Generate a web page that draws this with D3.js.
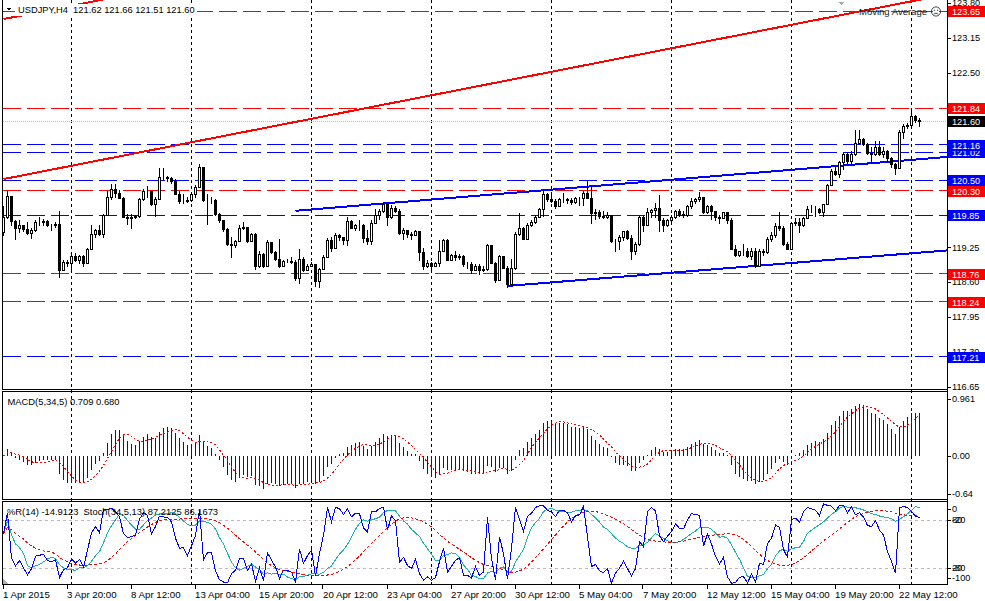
<!DOCTYPE html>
<html>
<head>
<meta charset="utf-8">
<script src="https://cdnjs.cloudflare.com/ajax/libs/d3/7.8.5/d3.min.js"></script>
<style>
  html, body { margin: 0; padding: 0; background: #fff; }
  svg { display: block; font-family: "Liberation Sans", Arial, sans-serif; font-size: 9.2px; }
</style>
</head>
<body>
<div id="chart"></div>
<script>
// USDJPY H4 quotes, 1 Apr - 22 May 2015 (open of a bar = close of the previous one)
const firstOpen = 119.53;
const closes = [
  119.81, 120.21, 119.74, 119.61, 119.67, 119.59, 119.51, 119.58, 119.72, 119.73,
  119.74, 119.67, 119.66, 119.68, 118.83, 118.97, 118.95, 119.09, 119.02, 119.08,
  118.96, 119.22, 119.49, 119.58, 119.49, 119.85, 120.18, 120.34, 120.27, 120.17,
  119.82, 119.79, 119.81, 119.84, 120.15, 120.30, 120.29, 120.06, 120.15, 120.56,
  120.55, 120.54, 120.48, 120.25, 120.11, 120.12, 120.13, 120.25, 120.38, 120.74,
  120.13, 120.13, 120.13, 119.87, 119.75, 119.59, 119.32, 119.29, 119.36, 119.61,
  119.62, 119.36, 119.50, 118.91, 119.13, 118.91, 119.35, 119.16, 119.04, 118.91,
  119.00, 119.00, 118.98, 118.67, 119.04, 118.82, 118.91, 118.93, 118.62, 118.85,
  119.06, 119.39, 119.24, 119.47, 119.45, 119.38, 119.74, 119.61, 119.67, 119.66,
  119.43, 119.36, 119.70, 119.86, 119.92, 120.06, 119.82, 119.98, 119.93, 119.51,
  119.58, 119.50, 119.47, 119.56, 119.16, 118.91, 118.96, 118.91, 118.95, 119.19,
  119.38, 119.02, 119.10, 119.07, 119.09, 118.93, 118.93, 118.83, 118.91, 118.82,
  118.85, 119.30, 118.96, 118.64, 119.08, 118.87, 118.56, 118.87, 119.50, 119.61,
  119.41, 119.67, 119.72, 119.82, 119.96, 120.25, 120.15, 120.11, 120.01, 120.15,
  120.15, 120.13, 120.09, 120.16, 120.17, 120.27, 120.17, 119.88, 119.90, 119.84,
  119.82, 119.86, 119.36, 119.36, 119.44, 119.55, 119.43, 119.19, 119.32, 119.81,
  119.67, 119.90, 119.95, 119.98, 119.76, 119.67, 119.75, 119.82, 119.93, 119.87,
  119.86, 120.01, 120.12, 120.14, 120.18, 119.90, 120.01, 119.92, 119.81, 119.80,
  119.90, 119.76, 119.22, 119.10, 119.18, 119.19, 119.08, 119.19, 118.91, 119.18,
  119.16, 119.41, 119.47, 119.64, 119.61, 119.32, 119.22, 119.70, 119.72, 119.67,
  119.80, 119.96, 119.96, 119.96, 119.90, 120.06, 120.41, 120.67, 120.62, 120.83,
  120.98, 120.86, 120.99, 121.20, 121.26, 121.18, 121.01, 120.99, 121.11, 120.99,
  121.04, 120.91, 120.80, 120.73, 121.40, 121.51, 121.52, 121.69, 121.62, 121.60
];
const highs = [
  120.01, 120.30, 120.21, 119.75, 119.75, 119.67, 119.72, 119.60, 119.75, 119.81,
  119.77, 119.75, 119.69, 119.72, 119.93, 119.02, 119.01, 119.13, 119.14, 119.10,
  119.10, 119.24, 119.67, 119.59, 119.66, 119.87, 120.29, 120.43, 120.43, 120.32,
  120.18, 119.87, 119.87, 119.86, 120.17, 120.34, 120.40, 120.30, 120.18, 120.73,
  120.72, 120.58, 120.56, 120.53, 120.30, 120.25, 120.18, 120.27, 120.41, 120.81,
  120.75, 120.25, 120.19, 120.14, 119.88, 119.75, 119.61, 119.44, 119.38, 119.66,
  119.72, 119.63, 119.51, 119.51, 119.19, 119.14, 119.38, 119.35, 119.19, 119.41,
  119.01, 119.04, 119.06, 119.01, 119.22, 119.06, 118.93, 118.97, 118.93, 118.86,
  119.10, 119.43, 119.45, 119.51, 119.49, 119.45, 119.82, 119.75, 119.69, 119.75,
  119.69, 119.58, 119.75, 119.97, 119.97, 120.10, 120.06, 120.03, 120.01, 119.97,
  119.60, 119.58, 119.54, 119.58, 119.56, 119.23, 119.01, 118.97, 118.97, 119.39,
  119.41, 119.41, 119.12, 119.19, 119.12, 119.10, 118.97, 118.97, 118.93, 118.93,
  118.90, 119.32, 119.30, 118.97, 119.10, 119.08, 118.90, 119.04, 119.54, 119.88,
  119.62, 119.71, 119.75, 119.86, 119.99, 120.29, 120.27, 120.23, 120.14, 120.17,
  120.27, 120.17, 120.16, 120.19, 120.19, 120.29, 120.49, 120.40, 119.97, 119.95,
  119.93, 119.90, 119.86, 119.41, 119.47, 119.56, 119.58, 119.47, 119.34, 119.84,
  119.84, 119.99, 119.97, 120.07, 120.23, 119.79, 119.77, 119.86, 119.95, 119.97,
  119.93, 120.03, 120.16, 120.17, 120.28, 120.19, 120.03, 120.03, 119.93, 119.86,
  119.91, 119.91, 119.79, 119.29, 119.19, 119.32, 119.23, 119.23, 119.23, 119.21,
  119.21, 119.45, 119.53, 119.71, 119.90, 119.64, 119.34, 119.73, 119.79, 119.79,
  119.82, 120.01, 120.03, 120.01, 119.99, 120.06, 120.43, 120.71, 120.75, 120.86,
  121.01, 121.03, 121.04, 121.44, 121.43, 121.29, 121.19, 121.12, 121.23, 121.23,
  121.12, 121.06, 120.93, 120.82, 121.44, 121.54, 121.56, 121.80, 121.71, 121.66
];
const lows = [
  119.47, 119.80, 119.66, 119.41, 119.53, 119.56, 119.49, 119.42, 119.56, 119.67,
  119.67, 119.64, 119.58, 119.62, 118.70, 118.83, 118.91, 118.79, 119.00, 118.96,
  118.91, 118.95, 119.24, 119.44, 119.47, 119.44, 119.85, 120.15, 120.18, 120.16,
  119.81, 119.69, 119.61, 119.80, 119.81, 120.13, 120.18, 120.03, 119.84, 120.15,
  120.51, 120.49, 120.45, 120.24, 120.08, 120.08, 120.10, 120.12, 120.19, 120.38,
  120.12, 119.69, 120.08, 119.86, 119.72, 119.56, 119.30, 119.06, 119.25, 119.36,
  119.59, 119.35, 119.36, 118.85, 118.88, 118.88, 118.91, 119.14, 119.01, 118.88,
  118.91, 118.97, 118.95, 118.64, 118.58, 118.80, 118.82, 118.90, 118.53, 118.51,
  118.85, 119.06, 119.19, 119.23, 119.38, 119.32, 119.29, 119.60, 119.58, 119.58,
  119.34, 119.32, 119.32, 119.70, 119.77, 119.90, 119.66, 119.79, 119.90, 119.49,
  119.41, 119.45, 119.40, 119.47, 119.02, 118.85, 118.88, 118.85, 118.90, 118.90,
  119.19, 119.01, 119.01, 119.01, 119.03, 118.91, 118.86, 118.77, 118.82, 118.75,
  118.80, 118.82, 118.95, 118.60, 118.64, 118.86, 118.51, 118.54, 118.85, 119.47,
  119.40, 119.40, 119.64, 119.71, 119.82, 119.84, 120.12, 120.10, 119.99, 120.01,
  120.10, 120.08, 120.05, 120.08, 120.03, 120.03, 120.16, 119.71, 119.77, 119.80,
  119.79, 119.79, 119.35, 119.18, 119.21, 119.38, 119.40, 119.04, 119.12, 119.29,
  119.56, 119.67, 119.82, 119.82, 119.56, 119.56, 119.64, 119.73, 119.79, 119.84,
  119.82, 119.84, 119.99, 120.08, 120.12, 119.89, 119.88, 119.77, 119.75, 119.71,
  119.79, 119.71, 119.21, 119.08, 119.08, 119.10, 119.06, 119.04, 118.88, 118.90,
  119.10, 119.14, 119.36, 119.45, 119.58, 119.29, 119.21, 119.29, 119.67, 119.53,
  119.64, 119.79, 119.90, 119.84, 119.88, 119.84, 120.06, 120.41, 120.60, 120.55,
  120.71, 120.82, 120.80, 120.97, 121.17, 121.16, 120.99, 120.82, 120.97, 120.97,
  120.93, 120.85, 120.75, 120.62, 120.73, 121.29, 121.47, 121.52, 121.58, 121.51
];

// time axis
const timeLabels = ["1 Apr 2015", "3 Apr 20:00", "8 Apr 12:00", "13 Apr 04:00", "15 Apr 20:00",
  "20 Apr 12:00", "23 Apr 04:00", "27 Apr 20:00", "30 Apr 12:00", "5 May 04:00",
  "7 May 20:00", "12 May 12:00", "15 May 04:00", "19 May 20:00", "22 May 12:00"];
const timeLabelBars = [0, 16, 32, 48, 64, 80, 96, 112, 128, 144, 160, 176, 192, 208, 224];
const gridBars = [17, 47, 77, 107, 137, 167, 197, 227];

// price axis and chart objects
const priceTicks = [123.80, 123.15, 122.50, 121.85, 121.20, 120.55, 119.90, 119.25, 118.60, 117.95, 117.30, 116.65];
const redLevels = [123.65, 121.84, 120.30, 118.76, 118.24];
const blueLevels = [121.02, 121.16, 120.50, 119.85, 117.21];
const bidPrice = 121.60;
// trend lines as [bar1, price1, bar2, price2], drawn as rays to the right
const redTrends = [[0, 120.52, 229, 123.86], [0, 123.50, 229, 126.84]];
const blueTrends = [[73, 119.93, 229, 120.89], [126, 118.53, 229, 119.15]];

// indicator windows
const macdTicks = [0.961, 0.00, -0.64];
const stochLevels = [80, 20];

const headerText = "USDJPY,H4  121.62 121.66 121.51 121.60";
const macdText = "MACD(5,34,5) 0.709 0.680";
const stochText = "%R(14) -14.9123  Stoch(34,5,13) 87.2125 86.1673";

const RED = "#ff0000", BLUE = "#0000ff", TEAL = "#20b2aa";
const W = 985, H = 601;
const plotL = 2.5, plotR = 947.5;
const mainBot = 389.5, macdTop = 391.5, macdBot = 499.5, stTop = 501.5, stBot = 584.5;

const n = closes.length;
const opens = closes.map((c, i) => (i === 0 ? firstOpen : closes[i - 1]));

// ---- indicators ----
function ema(arr, p) {
  const k = 2 / (p + 1), out = [];
  arr.forEach((v, i) => out.push(i ? out[i - 1] + k * (v - out[i - 1]) : v));
  return out;
}
const ema5 = ema(closes, 5), ema34 = ema(closes, 34);
const macd = closes.map((c, i) => ema5[i] - ema34[i]);
const macdSig = macd.map((v, i) => d3.mean(macd.slice(Math.max(0, i - 4), i + 1)));

const wpr = closes.map((c, i) => {
  const s = Math.max(0, i - 13);
  const hh = d3.max(highs.slice(s, i + 1)), ll = d3.min(lows.slice(s, i + 1));
  return hh === ll ? -50 : -100 * (hh - c) / (hh - ll);
});
const stK = closes.map((c, i) => {
  let num = 0, den = 0;
  for (let j = Math.max(0, i - 4); j <= i; j++) {
    const s = Math.max(0, j - 33);
    const hh = d3.max(highs.slice(s, j + 1)), ll = d3.min(lows.slice(s, j + 1));
    num += closes[j] - ll;
    den += hh - ll;
  }
  return den ? 100 * num / den : 50;
});
const stD = stK.map((v, i) => d3.mean(stK.slice(Math.max(0, i - 12), i + 1)));

// ---- scales ----
const x = d3.scaleLinear().domain([0, n - 1]).range([3.5, 3.5 + 4 * (n - 1)]);
const y = d3.scaleLinear().domain([116.65, 123.65]).range([386.9, 11]);
const yM = d3.scaleLinear().domain([-0.64, 0.961]).range([494, 399]);
const yS = d3.scaleLinear().domain([0, 100]).range([584, 504]);
const yR = d3.scaleLinear().domain([-100, 0]).range([584, 504]);
const px = (v) => Math.round(v) + 0.5;

const svg = d3.select("#chart").append("svg")
  .attr("width", W).attr("height", H)
  .attr("viewBox", `0 0 ${W} ${H}`)
  .style("shape-rendering", "crispEdges");

const defs = svg.append("defs");
[["clipMain", 0, mainBot], ["clipMacd", macdTop, macdBot], ["clipSt", stTop, stBot]].forEach(([id, t, b]) => {
  defs.append("clipPath").attr("id", id).append("rect")
    .attr("x", plotL).attr("y", t).attr("width", plotR - plotL).attr("height", b - t);
});

// vertical grid
svg.append("g").selectAll("line").data(gridBars).join("line")
  .attr("x1", (d) => px(x(d) - 0.5)).attr("x2", (d) => px(x(d) - 0.5))
  .attr("y1", 0).attr("y2", stBot)
  .attr("stroke", "#000").attr("stroke-dasharray", "3,3");

// ---- main window ----
const gMain = svg.append("g").attr("clip-path", "url(#clipMain)");

gMain.append("g").selectAll("line").data(redLevels.map((p) => [p, RED]).concat(blueLevels.map((p) => [p, BLUE])))
  .join("line")
  .attr("x1", plotL).attr("x2", plotR)
  .attr("y1", (d) => px(y(d[0]) - 0.5)).attr("y2", (d) => px(y(d[0]) - 0.5))
  .attr("stroke", (d) => d[1]).attr("stroke-dasharray", "18,6");

gMain.append("line")
  .attr("x1", plotL).attr("x2", plotR)
  .attr("y1", px(y(bidPrice))).attr("y2", px(y(bidPrice)))
  .attr("stroke", "#b8b8b8").attr("stroke-dasharray", "1,1");

function drawRay(t, color) {
  const [b1, p1, b2, p2] = t;
  const bEnd = x.invert(plotR);
  const pEnd = p1 + (p2 - p1) * (bEnd - b1) / (b2 - b1);
  gMain.append("line")
    .attr("x1", x(b1)).attr("y1", y(p1)).attr("x2", x(bEnd)).attr("y2", y(pEnd))
    .attr("stroke", color).attr("stroke-width", 2);
}
redTrends.forEach((t) => drawRay(t, RED));
blueTrends.forEach((t) => drawRay(t, BLUE));

// candles
const bars = d3.range(n);
const gC = gMain.append("g");
gC.selectAll("line").data(bars).join("line")
  .attr("x1", (i) => px(x(i) - 0.5)).attr("x2", (i) => px(x(i) - 0.5))
  .attr("y1", (i) => Math.round(y(Math.max(highs[i], opens[i], closes[i]))))
  .attr("y2", (i) => Math.round(y(Math.min(lows[i], opens[i], closes[i]))) + 1)
  .attr("stroke", "#000");
gC.selectAll("rect").data(bars).join("rect")
  .attr("x", (i) => px(x(i) - 0.5) - 1)
  .attr("width", 2)
  .attr("y", (i) => px(y(Math.max(opens[i], closes[i]))))
  .attr("height", (i) => Math.max(0, Math.round(y(Math.min(opens[i], closes[i]))) - Math.round(y(Math.max(opens[i], closes[i])))))
  .attr("fill", (i) => (closes[i] >= opens[i] ? "#fff" : "#000"))
  .attr("stroke", "#000");

// header
svg.append("rect").attr("x", 15).attr("y", 3.5).attr("width", 182).attr("height", 12).attr("fill", "#fff");
svg.append("path").attr("d", "M6,7.5 L12,7.5 L9,11 Z").attr("fill", "#000");
svg.append("text").attr("x", 18).attr("y", 13).attr("fill", "#000").style("font-size", "9.3px")
  .attr("xml:space", "preserve").text(headerText);

svg.append("path").attr("d", "M838.5,1.5 L845,1.5 L841.75,5 Z").attr("fill", "#a8a8a8");
svg.append("text").attr("x", 859).attr("y", 14.5).attr("fill", "#222").style("font-size", "9.5px").text("Moving Average");
const face = svg.append("g").attr("transform", "translate(936,11.5)").style("shape-rendering", "auto");
face.append("circle").attr("r", 4.6).attr("fill", "none").attr("stroke", "#333").attr("stroke-width", 0.9);
face.append("circle").attr("cx", -1.6).attr("cy", -1.3).attr("r", 0.6).attr("fill", "#333");
face.append("circle").attr("cx", 1.6).attr("cy", -1.3).attr("r", 0.6).attr("fill", "#333");
face.append("path").attr("d", "M-2.2,2.6 Q0,0.6 2.2,2.6").attr("fill", "none").attr("stroke", "#333").attr("stroke-width", 0.9);

// ---- MACD window ----
const gM = svg.append("g").attr("clip-path", "url(#clipMacd)");
gM.selectAll("line").data(bars).join("line")
  .attr("x1", (i) => px(x(i) - 0.5)).attr("x2", (i) => px(x(i) - 0.5))
  .attr("y1", Math.round(yM(0))).attr("y2", (i) => Math.round(yM(macd[i])))
  .attr("stroke", BLUE);
gM.append("path")
  .attr("d", d3.line().x((d, i) => x(i)).y((d) => yM(d))(macdSig))
  .attr("fill", "none").attr("stroke", RED).attr("stroke-dasharray", "2,2");
svg.append("text").attr("x", 7.5).attr("y", 404.5).attr("fill", "#000").style("font-size", "9.4px").text(macdText);

// ---- %R / Stochastic window ----
const gS = svg.append("g").attr("clip-path", "url(#clipSt)");
gS.selectAll("line.lvl").data(stochLevels).join("line").attr("class", "lvl")
  .attr("x1", plotL).attr("x2", plotR)
  .attr("y1", (d) => px(yS(d))).attr("y2", (d) => px(yS(d)))
  .attr("stroke", "#c4b4c4").attr("stroke-dasharray", "3,3");
const line = d3.line().x((d, i) => x(i));
gS.append("path").attr("d", line.y((d) => yS(d))(stK)).attr("fill", "none").attr("stroke", TEAL);
gS.append("path").attr("d", line.y((d) => yS(d))(stD)).attr("fill", "none").attr("stroke", RED).attr("stroke-dasharray", "3,2");
gS.append("path").attr("d", line.y((d) => yR(d))(wpr)).attr("fill", "none").attr("stroke", BLUE);
svg.append("text").attr("x", 7).attr("y", 514.5).attr("fill", "#000").style("font-size", "9.4px")
  .attr("xml:space", "preserve").text(stochText);
svg.append("path").attr("d", "M3,579 L3,584 L8,584 Z").attr("fill", "#b0b0b0");

// ---- frames ----
const frame = svg.append("g").attr("fill", "none").attr("stroke", "#000");
frame.append("path").attr("d", `M${plotL},0 V${mainBot} H${plotR} V0`);
frame.append("rect").attr("x", plotL).attr("y", macdTop).attr("width", plotR - plotL).attr("height", macdBot - macdTop);
frame.append("rect").attr("x", plotL).attr("y", stTop).attr("width", plotR - plotL).attr("height", stBot - stTop);
frame.append("line").attr("x1", plotR).attr("x2", plotR).attr("y1", 0).attr("y2", stBot);

// ---- right axis ----
const axis = svg.append("g");
function rightLabel(yy, txt) {
  axis.append("line").attr("x1", plotR).attr("x2", plotR + 3).attr("y1", px(yy)).attr("y2", px(yy)).attr("stroke", "#000");
  axis.append("text").attr("x", 952).attr("y", yy + 3.3).attr("fill", "#000").text(txt);
}
priceTicks.forEach((p) => rightLabel(y(p), p.toFixed(2)));
macdTicks.forEach((v, i) => rightLabel(yM(v), i === 0 ? v.toFixed(3) : v.toFixed(2)));
rightLabel(509, "0");
rightLabel(yS(80), "80");
axis.append("text").attr("x", 952).attr("y", yS(80) + 3.3).attr("fill", "#000").text("-20");
rightLabel(yS(20), "20");
axis.append("text").attr("x", 952).attr("y", yS(20) + 3.3).attr("fill", "#000").text("-80");
rightLabel(578, "-100");

function priceBox(p, color) {
  const yy = Math.round(y(p));
  axis.append("rect").attr("x", 948).attr("y", yy - 5).attr("width", 37).attr("height", 11).attr("fill", color);
  axis.append("text").attr("x", 952).attr("y", yy + 3.6).attr("fill", "#fff").text(p.toFixed(2));
}
redLevels.forEach((p) => priceBox(p, RED));
blueLevels.forEach((p) => priceBox(p, BLUE));
priceBox(bidPrice, "#000");

// ---- time axis ----
const tg = svg.append("g");
tg.selectAll("line").data(timeLabelBars).join("line")
  .attr("x1", (b) => px(x(b) - 1)).attr("x2", (b) => px(x(b) - 1))
  .attr("y1", stBot).attr("y2", stBot + 4).attr("stroke", "#000");
tg.selectAll("text").data(timeLabelBars).join("text")
  .attr("x", (b) => x(b) - 0.5).attr("y", 597.5).attr("fill", "#000")
  .style("font-size", "9.7px")
  .text((b, i) => timeLabels[i]);
</script>
</body>
</html>
